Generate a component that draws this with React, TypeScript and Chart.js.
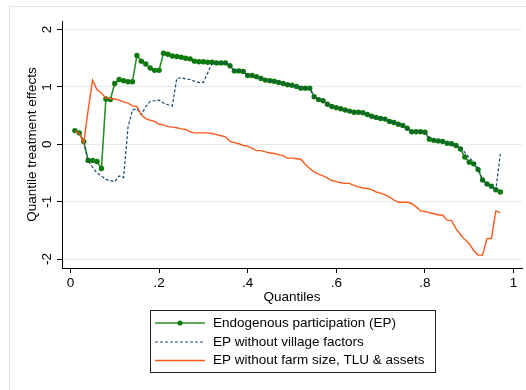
import React, { useEffect, useRef } from "react";
import { Chart, registerables } from "chart.js";

Chart.register(...registerables);

const quantiles = [
  0.01, 0.02, 0.03, 0.04, 0.05, 0.06, 0.07, 0.08, 0.09, 0.1,
  0.11, 0.12, 0.13, 0.14, 0.15, 0.16, 0.17, 0.18, 0.19, 0.2,
  0.21, 0.22, 0.23, 0.24, 0.25, 0.26, 0.27, 0.28, 0.29, 0.3,
  0.31, 0.32, 0.33, 0.34, 0.35, 0.36, 0.37, 0.38, 0.39, 0.4,
  0.41, 0.42, 0.43, 0.44, 0.45, 0.46, 0.47, 0.48, 0.49, 0.5,
  0.51, 0.52, 0.53, 0.54, 0.55, 0.56, 0.57, 0.58, 0.59, 0.6,
  0.61, 0.62, 0.63, 0.64, 0.65, 0.66, 0.67, 0.68, 0.69, 0.7,
  0.71, 0.72, 0.73, 0.74, 0.75, 0.76, 0.77, 0.78, 0.79, 0.8,
  0.81, 0.82, 0.83, 0.84, 0.85, 0.86, 0.87, 0.88, 0.89, 0.9,
  0.91, 0.92, 0.93, 0.94, 0.95, 0.96, 0.97,
];

const epValues = [
  0.24, 0.2, 0.05, -0.28, -0.28, -0.3, -0.42, 0.79, 0.78, 1.06,
  1.13, 1.11, 1.09, 1.09, 1.55, 1.45, 1.4, 1.33, 1.29, 1.29,
  1.59, 1.57, 1.54, 1.53, 1.52, 1.5, 1.49, 1.45, 1.44, 1.44,
  1.43, 1.43, 1.42, 1.42, 1.42, 1.37, 1.28, 1.28, 1.27, 1.2,
  1.2, 1.18, 1.15, 1.12, 1.11, 1.1, 1.08, 1.06, 1.04, 1.03,
  1.01, 0.98, 0.98, 0.98, 0.83, 0.78, 0.76, 0.7, 0.66, 0.64,
  0.62, 0.6, 0.58, 0.56, 0.56, 0.55, 0.52, 0.49, 0.47, 0.45,
  0.44, 0.4, 0.38, 0.35, 0.33, 0.28, 0.22, 0.22, 0.22, 0.21,
  0.09, 0.07, 0.06, 0.05, 0.02, 0.01, -0.02, -0.08, -0.22, -0.31,
  -0.34, -0.44, -0.62, -0.69, -0.73, -0.79, -0.83,
];

const noVillageValues = [
  0.24, 0.19, 0.05, -0.28, -0.4, -0.5, -0.55, -0.61, -0.63, -0.65,
  -0.55, -0.58, 0.3, 0.6, 0.62, 0.52, 0.66, 0.75, 0.76, 0.77,
  0.72, 0.69, 0.67, 1.15, 1.16, 1.14, 1.13, 1.1, 1.08, 1.08,
  1.25, 1.42, 1.42, 1.42, 1.42, 1.37, 1.28, 1.28, 1.27, 1.2,
  1.2, 1.18, 1.15, 1.12, 1.11, 1.1, 1.08, 1.06, 1.04, 1.03,
  1.01, 0.98, 0.98, 0.98, 0.83, 0.78, 0.76, 0.7, 0.66, 0.64,
  0.62, 0.6, 0.58, 0.56, 0.56, 0.55, 0.52, 0.49, 0.47, 0.45,
  0.44, 0.4, 0.38, 0.35, 0.33, 0.28, 0.22, 0.22, 0.22, 0.21,
  0.12, 0.07, 0.06, 0.05, 0.02, 0.01, -0.02, -0.05, -0.14, -0.24,
  -0.3, -0.42, -0.62, -0.69, -0.73, -0.79, -0.17,
];

const noFarmValues = [
  0.23, 0.19, 0.02, 0.6, 1.12, 0.95, 0.89, 0.81, 0.8, 0.79,
  0.77, 0.74, 0.72, 0.67, 0.66, 0.51, 0.45, 0.42, 0.4, 0.35,
  0.34, 0.31, 0.3, 0.29, 0.27, 0.26, 0.22, 0.2, 0.2, 0.2,
  0.2, 0.19, 0.17, 0.15, 0.13, 0.05, 0.03, 0.01, -0.02, -0.03,
  -0.07, -0.11, -0.11, -0.13, -0.15, -0.16, -0.18, -0.2, -0.24, -0.24,
  -0.25, -0.26, -0.35, -0.42, -0.48, -0.52, -0.55, -0.59, -0.63, -0.65,
  -0.67, -0.68, -0.68, -0.72, -0.74, -0.76, -0.77, -0.79, -0.83, -0.85,
  -0.88, -0.92, -0.97, -1.01, -1.01, -1.01, -1.03, -1.09, -1.16, -1.17,
  -1.19, -1.21, -1.23, -1.23, -1.32, -1.33, -1.47, -1.57, -1.66, -1.73,
  -1.85, -1.93, -1.93, -1.64, -1.64, -1.16, -1.19,
];

const seriesLabels = [
  "Endogenous participation (EP)",
  "EP without village factors",
  "EP without farm size, TLU & assets",
];

const xTicks = [0, 0.2, 0.4, 0.6, 0.8, 1];
const xTickLabels = ["0", ".2", ".4", ".6", ".8", "1"];
const yTicks = [-2, -1, 0, 1, 2];
const yTickLabels = ["-2", "-1", "0", "1", "2"];

const xTitle = "Quantiles";
const yTitle = "Quantile treatment effects";

const GREEN_LINE = "#2a8f2a";
const GREEN_DOT = "#0b7a0b";
const NAVY = "#1a476f";
const ORANGE = "#ff5a1c";
const FONT = "'Liberation Sans', Arial, Helvetica, sans-serif";
const FS = 13.5;

export default function App() {
  const ref = useRef<HTMLCanvasElement | null>(null);

  useEffect(() => {
    const canvas = ref.current;
    if (!canvas) return;

    const toPoints = (vals: number[]) =>
      quantiles.map((q, i) => ({ x: q, y: vals[i] }));

    const decorPlugin = {
      id: "decor",
      beforeDraw(chart: any) {
        const ctx = chart.ctx;
        ctx.save();
        ctx.fillStyle = "#ffffff";
        ctx.fillRect(0, 0, chart.width, chart.height);
        ctx.strokeStyle = "#dfe6e9";
        ctx.lineWidth = 1;
        ctx.strokeRect(9.5, 6.5, chart.width + 20, chart.height + 20);
        ctx.restore();
      },
      afterDraw(chart: any) {
        const ctx = chart.ctx;
        const yScale = chart.scales.y;
        const area = chart.chartArea;
        ctx.save();
        ctx.fillStyle = "#000";
        ctx.font = `${FS}px ${FONT}`;
        ctx.textAlign = "center";
        ctx.textBaseline = "middle";
        // y tick labels (rotated)
        yTicks.forEach((v, i) => {
          const py = yScale.getPixelForValue(v);
          ctx.save();
          ctx.translate(47, py);
          ctx.rotate(-Math.PI / 2);
          ctx.fillText(yTickLabels[i], 0, 0);
          ctx.restore();
        });
        // y title
        ctx.save();
        ctx.translate(32, (area.top + area.bottom) / 2);
        ctx.rotate(-Math.PI / 2);
        ctx.fillText(yTitle, 0, 0);
        ctx.restore();
        // x title
        ctx.fillText(xTitle, (area.left + area.right) / 2, 297);

        // legend
        const bx = 150.5, by = 310.5, bw = 285, bh = 62;
        ctx.strokeStyle = "#222";
        ctx.lineWidth = 1;
        ctx.strokeRect(bx, by, bw, bh);
        const rows = [323, 342, 360.5];
        const x0 = 155, x1 = 205, tx = 213;
        // green
        ctx.strokeStyle = GREEN_LINE;
        ctx.lineWidth = 1.5;
        ctx.beginPath();
        ctx.moveTo(x0, rows[0]);
        ctx.lineTo(x1, rows[0]);
        ctx.stroke();
        ctx.fillStyle = GREEN_DOT;
        ctx.beginPath();
        ctx.arc((x0 + x1) / 2, rows[0], 2.6, 0, Math.PI * 2);
        ctx.fill();
        // navy dashed
        ctx.strokeStyle = NAVY;
        ctx.lineWidth = 1.2;
        ctx.setLineDash([3, 2]);
        ctx.beginPath();
        ctx.moveTo(x0, rows[1]);
        ctx.lineTo(x1, rows[1]);
        ctx.stroke();
        ctx.setLineDash([]);
        // orange
        ctx.strokeStyle = ORANGE;
        ctx.lineWidth = 1.4;
        ctx.beginPath();
        ctx.moveTo(x0, rows[2]);
        ctx.lineTo(x1, rows[2]);
        ctx.stroke();
        ctx.fillStyle = "#000";
        ctx.textAlign = "left";
        seriesLabels.forEach((s, i) => ctx.fillText(s, tx, rows[i]));
        ctx.restore();
      },
    };

    const chart = new Chart(canvas, {
      type: "line",
      data: {
        datasets: [
          {
            label: seriesLabels[0],
            data: toPoints(epValues),
            borderColor: GREEN_LINE,
            backgroundColor: GREEN_DOT,
            borderWidth: 1.6,
            pointRadius: 2.7,
            pointBackgroundColor: GREEN_DOT,
            pointBorderColor: GREEN_DOT,
            pointBorderWidth: 0,
            tension: 0,
            order: 3,
          },
          {
            label: seriesLabels[1],
            data: toPoints(noVillageValues),
            borderColor: NAVY,
            borderWidth: 1.2,
            borderDash: [3, 2],
            pointRadius: 0,
            tension: 0,
            order: 2,
          },
          {
            label: seriesLabels[2],
            data: toPoints(noFarmValues),
            borderColor: ORANGE,
            borderWidth: 1.4,
            pointRadius: 0,
            tension: 0,
            order: 1,
          },
        ],
      },
      options: {
        responsive: false,
        animation: false,
        devicePixelRatio: 1,
        layout: { padding: { top: 21, right: 3, left: 0, bottom: 0 } },
        plugins: {
          legend: { display: false },
          tooltip: { enabled: false },
        },
        scales: {
          x: {
            type: "linear",
            min: -0.019,
            max: 1.019,
            afterBuildTicks: (s: any) => {
              s.ticks = xTicks.map((v) => ({ value: v }));
            },
            afterFit: (s: any) => {
              s.height = 122;
            },
            ticks: {
              color: "#000",
              font: { family: FONT, size: FS },
              padding: 2,
              maxRotation: 0,
              minRotation: 0,
              callback: (v: any) => {
                const i = xTicks.indexOf(Number(v));
                return i >= 0 ? xTickLabels[i] : "";
              },
            },
            grid: {
              drawOnChartArea: false,
              drawTicks: true,
              tickLength: 5,
              tickColor: "#000",
            },
            border: { display: true, color: "#000", width: 1 },
          },
          y: {
            type: "linear",
            min: -2.155,
            max: 2.15,
            afterBuildTicks: (s: any) => {
              s.ticks = yTicks.map((v) => ({ value: v }));
            },
            afterFit: (s: any) => {
              s.width = 62;
            },
            ticks: { display: false },
            grid: {
              color: "#e3ebee",
              lineWidth: 1,
              drawTicks: true,
              tickLength: 5,
              tickColor: "#000",
            },
            border: { display: true, color: "#000", width: 1 },
          },
        },
      },
      plugins: [decorPlugin],
    });

    return () => chart.destroy();
  }, []);

  return (
    <div style={{ position: "absolute", left: 0, top: 0, width: 526, height: 390 }}>
      <canvas ref={ref} width={526} height={390} style={{ display: "block" }} />
    </div>
  );
}
